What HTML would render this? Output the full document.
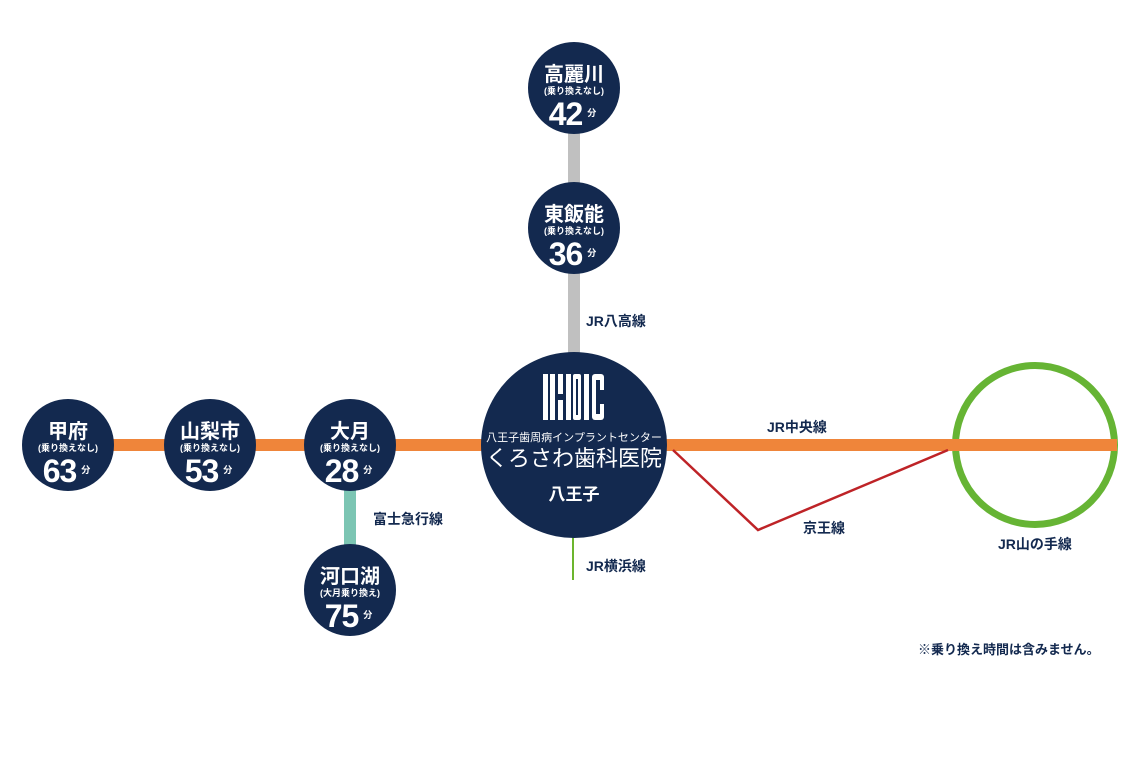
<!DOCTYPE html>
<html><head><meta charset="utf-8"><style>
body{margin:0;background:#fff;}
svg text{font-family:"Liberation Sans","Noto Sans CJK JP",sans-serif;font-weight:bold;}
svg text.n{font-weight:normal;}
</style></head><body>
<svg width="1142" height="760" viewBox="0 0 1142 760" xmlns="http://www.w3.org/2000/svg">
<rect width="1142" height="760" fill="#fff"/>
<rect x="568" y="88" width="12" height="300" fill="#c0c0c0"/>
<rect x="344" y="445" width="12" height="145" fill="#7cc5b3"/>
<line x1="573" y1="530" x2="573" y2="580" stroke="#6cb52e" stroke-width="2"/>
<circle cx="1035" cy="445" r="79.5" fill="none" stroke="#66b434" stroke-width="7"/>
<rect x="68" y="439" width="1049" height="12" fill="#ef853a"/>
<polyline points="673,450 758,530 948,450" fill="none" stroke="#be2327" stroke-width="2.5"/>
<g fill="#13294f">
<circle cx="68" cy="445" r="46"/><circle cx="210" cy="445" r="46"/><circle cx="350" cy="445" r="46"/>
<circle cx="350" cy="590" r="46"/><circle cx="574" cy="88" r="46"/><circle cx="574" cy="228" r="46"/>
<circle cx="574" cy="445" r="93"/>
</g>
<g fill="#fff" text-anchor="middle">
<text x="68" y="438" font-size="20">甲府</text><text x="68" y="451" font-size="9">(乗り換えなし)</text><text x="66" y="482" font-size="32" letter-spacing="-1">63<tspan font-size="9" dx="5" dy="-9">分</tspan></text>
<text x="210" y="438" font-size="20">山梨市</text><text x="210" y="451" font-size="9">(乗り換えなし)</text><text x="208" y="482" font-size="32" letter-spacing="-1">53<tspan font-size="9" dx="5" dy="-9">分</tspan></text>
<text x="350" y="438" font-size="20">大月</text><text x="350" y="451" font-size="9">(乗り換えなし)</text><text x="348" y="482" font-size="32" letter-spacing="-1">28<tspan font-size="9" dx="5" dy="-9">分</tspan></text>
<text x="350" y="583" font-size="20">河口湖</text><text x="350" y="596" font-size="9">(大月乗り換え)</text><text x="348" y="627" font-size="32" letter-spacing="-1">75<tspan font-size="9" dx="5" dy="-9">分</tspan></text>
<text x="574" y="81" font-size="20">高麗川</text><text x="574" y="94" font-size="9">(乗り換えなし)</text><text x="572" y="125" font-size="32" letter-spacing="-1">42<tspan font-size="9" dx="5" dy="-9">分</tspan></text>
<text x="574" y="221" font-size="20">東飯能</text><text x="574" y="234" font-size="9">(乗り換えなし)</text><text x="572" y="265" font-size="32" letter-spacing="-1">36<tspan font-size="9" dx="5" dy="-9">分</tspan></text>
<text class="n" x="574" y="441" font-size="11">八王子歯周病インプラントセンター</text>
<text class="n" x="574" y="466" font-size="22">くろさわ歯科医院</text>
<text x="574" y="500" font-size="17">八王子</text>
</g>
<g fill="#fff">
<rect x="543" y="374" width="5" height="46"/><rect x="550" y="374" width="5" height="46"/><rect x="558" y="374" width="5" height="20"/><rect x="558" y="400" width="5" height="20"/>
<rect x="566" y="374" width="5" height="46"/><rect x="573" y="374" width="8" height="46" rx="2"/><rect x="584" y="374" width="5" height="46"/><rect x="592" y="374" width="12" height="46" rx="3"/>
</g>
<rect x="576" y="379" width="2" height="36" fill="#13294f"/><rect x="596" y="380" width="4" height="34" fill="#13294f"/><rect x="600" y="390" width="5" height="14" fill="#13294f"/>
<g fill="#13294f" font-size="14">
<text x="586" y="326">JR八高線</text>
<text x="767" y="432">JR中央線</text>
<text x="803" y="533">京王線</text>
<text x="373" y="524">富士急行線</text>
<text x="586" y="571">JR横浜線</text>
<text x="998" y="549">JR山の手線</text>
<text x="918" y="654" font-size="13">※乗り換え時間は含みません。</text>
</g>
</svg>
</body></html>
